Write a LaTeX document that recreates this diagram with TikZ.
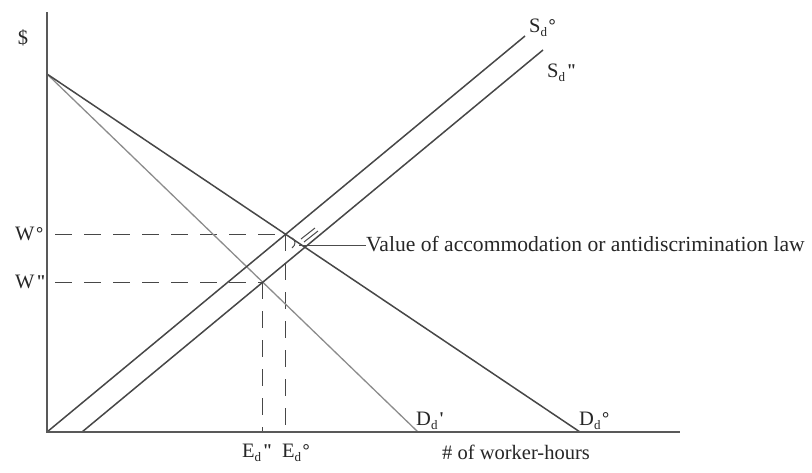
\documentclass[tikz,border=0pt]{standalone}
\usepackage{fontspec}
\setmainfont{Liberation Serif}[Ligatures=TeXOff]
\usetikzlibrary{intersections}
\newcommand\lsub[1]{\raisebox{-4.5pt}{\fontsize{13}{13}\selectfont #1}}
\newcommand\lsup[1]{\hspace{1.5pt}\raisebox{1pt}{\fontsize{18}{18}\selectfont\bfseries #1}}
\begin{document}
\begin{tikzpicture}[x=1pt,y=-1pt,
  axis/.style={draw=black!65, line width=2pt},
  curve/.style={draw=black!72, line width=1.5pt},
  lcurve/.style={draw=black!45, line width=1.3pt},
  guide/.style={draw=black!72, line width=1.3pt, dash pattern=on 17pt off 12pt, dash phase=21pt},
  tick/.style={draw=black!70, line width=1pt},
  lbl/.style={inner sep=0pt, text=black!85, font=\fontsize{20.5}{20.5}\selectfont},
]
\useasboundingbox (0,0) rectangle (812,472);
% key points
\coordinate (O) at (47,432);
\coordinate (Ytop) at (47,12);
\coordinate (Xend) at (680,432);
\coordinate (Dtop) at (47,74);
\coordinate (D0end) at (580,432);
\coordinate (D1end) at (418,432);
\coordinate (S0end) at (525,36);
\coordinate (S2start) at (82,432);
\coordinate (S2end) at (543,50);
% curves
\path[name path=d0] (Dtop) -- (D0end);
\path[name path=d1] (Dtop) -- (D1end);
\path[name path=s0] (O) -- (S0end);
\path[name path=s2] (S2start) -- (S2end);
\path[name intersections={of=d0 and s0, by=E0}];
\path[name intersections={of=d1 and s2, by=E2}];
\coordinate (W0) at (O|-E0);
\coordinate (W2) at (O|-E2);
\coordinate (X0) at (E0|-O);
\coordinate (X2) at (E2|-O);
% dashed guides
\draw[guide] (W0) -- (E0);
\draw[guide] (W2) -- (E2);
\draw[guide, dash phase=0pt] (E0) -- (X0);
\draw[guide, dash phase=0pt] (E2) -- (X2);
% lines
\draw[lcurve] (Dtop) -- (D1end);
\draw[curve] (Dtop) -- (D0end);
\draw[curve] (O) -- (S0end);
\draw[curve] (S2start) -- (S2end);
% axes
\draw[axis] (Ytop) -- (O) -- (Xend);
% accommodation marks
\coordinate (P) at (299,245);
\draw[tick] (292,238) .. controls (296,240) and (296,245) .. (292,248);
\draw[tick] (301,239) -- (315,228);
\draw[tick] (304,242) -- (318,231);
% labels
\node[lbl, anchor=center] (dollar) at (23,38) {\$};
\node[lbl, anchor=base west] (lW0) at (15,240) {W\lsup{°}};
\node[lbl, anchor=base west] (lW2) at (15,288) {W\lsup{"}};
\node[lbl, anchor=base west] (lS0) at (529,32) {S\lsub{d}\lsup{°}};
\node[lbl, anchor=base west] (lS2) at (547,77) {S\lsub{d}\lsup{"}};
\node[lbl, anchor=base west] (lD1) at (416,425) {D\lsub{d}\lsup{'}};
\node[lbl, anchor=base west] (lD0) at (579,425) {D\lsub{d}\lsup{°}};
\node[lbl, anchor=base west] (lE2) at (242,457) {E\lsub{d}\lsup{"}};
\node[lbl, anchor=base west] (lE0) at (282,457) {E\lsub{d}\lsup{°}};
\node[lbl, anchor=base west] (xlab) at (442,459) {\# of worker-hours};
\node[lbl, anchor=base west, font=\fontsize{21.6}{21.6}\selectfont] (val) at (366,251) {Value of accommodation or antidiscrimination law};
\draw[tick] (P) -- (val.west|-P);
\end{tikzpicture}
\end{document}
